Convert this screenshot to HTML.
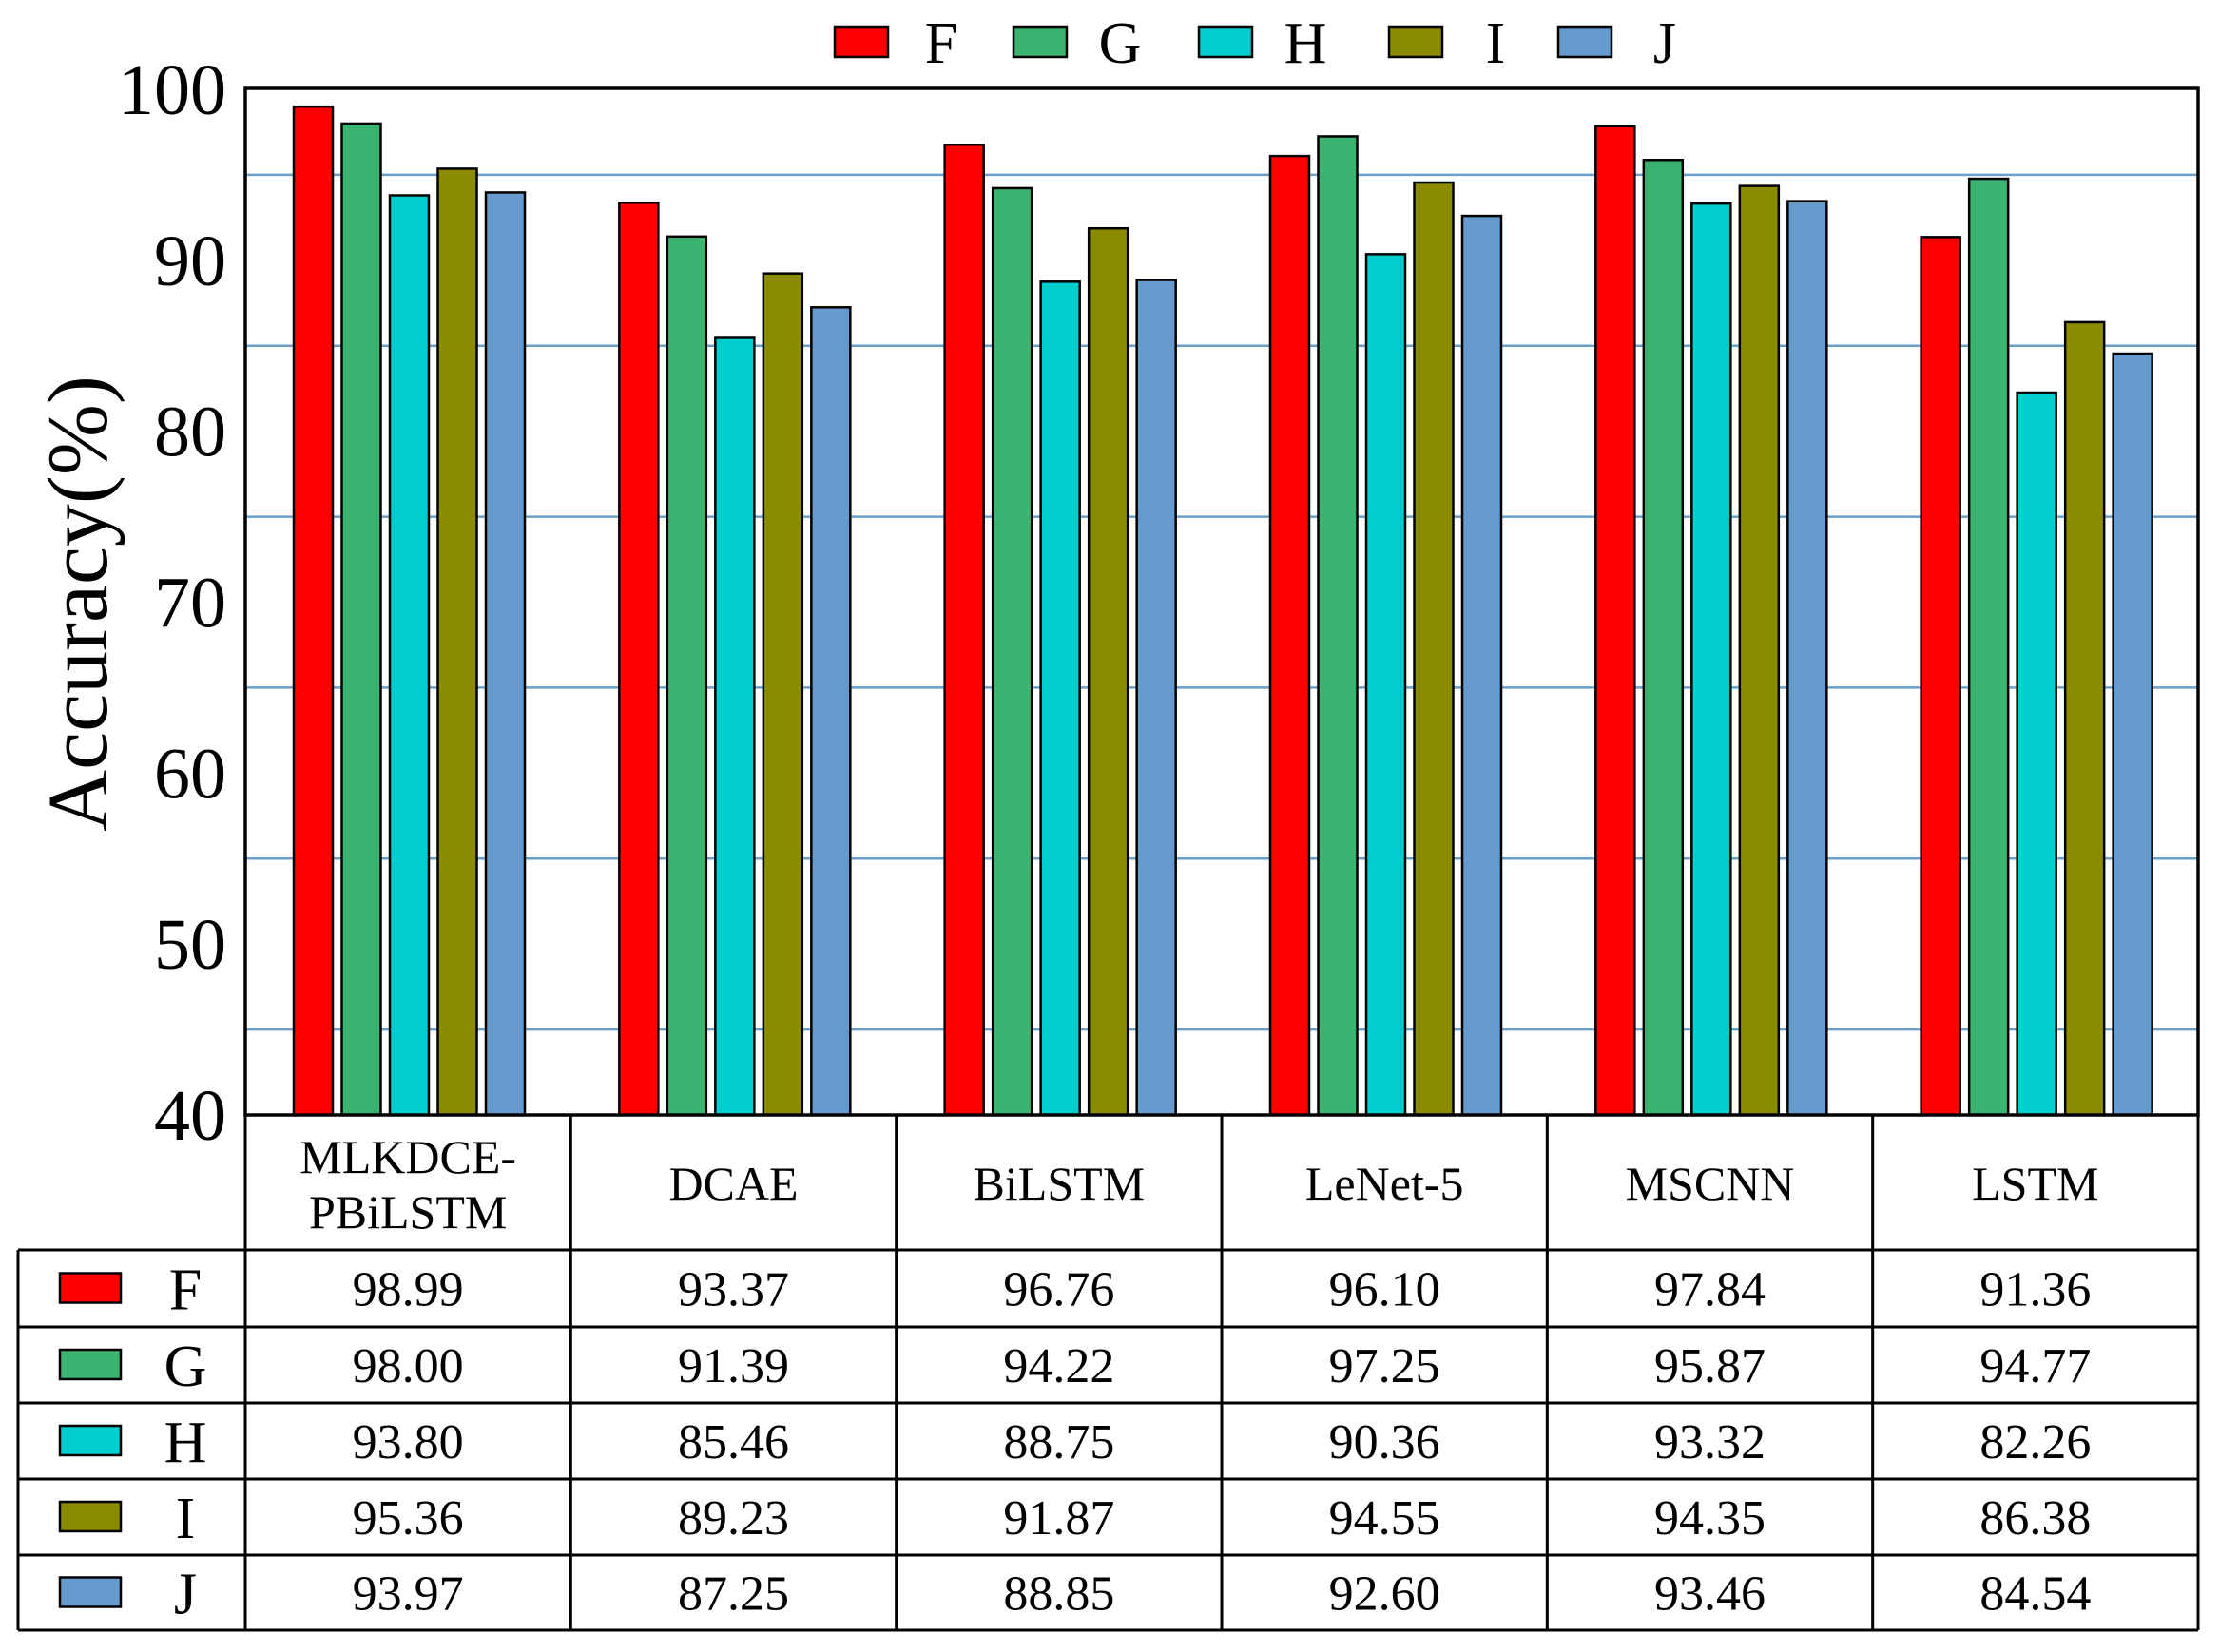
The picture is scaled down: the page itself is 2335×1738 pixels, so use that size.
<!DOCTYPE html>
<html><head><meta charset="utf-8"><style>
html,body{margin:0;padding:0;background:#fff;}
svg{display:block;font-family:"Liberation Serif",serif;}
</style></head><body>
<svg id="chart" width="2335" height="1738" viewBox="0 0 2335 1738" xmlns="http://www.w3.org/2000/svg">
<g id="grid"></g>
<g id="bars"></g>
<rect x="258" y="93" width="2054" height="1080" fill="none" stroke="#000" stroke-width="3.5"/>
<g id="yaxis"></g>
<text transform="translate(112,635) rotate(-90)" text-anchor="middle" font-size="90">Accuracy(%)</text>
<g id="legend"></g>
<g id="table"></g>
</svg>
<script>
const categories = ["MLKDCE-PBiLSTM","DCAE","BiLSTM","LeNet-5","MSCNN","LSTM"];
const seriesNames = ["F","G","H","I","J"];
const seriesF = [98.99,93.37,96.76,96.10,97.84,91.36];
const seriesG = [98.00,91.39,94.22,97.25,95.87,94.77];
const seriesH = [93.80,85.46,88.75,90.36,93.32,82.26];
const seriesI = [95.36,89.23,91.87,94.55,94.35,86.38];
const seriesJ = [93.97,87.25,88.85,92.60,93.46,84.54];
const yTicks = [40,50,60,70,80,90,100];
const gridValues = [45,55,65,75,85,95];
const colors = ["#ff0000","#3cb371","#00cdcd","#8b8b00","#6699cc"];
const series = [seriesF,seriesG,seriesH,seriesI,seriesJ];
const NS="http://www.w3.org/2000/svg";
const yMin=40,yMax=100,plotTop=94,plotBot=1173,plotL=258,plotR=2312,colW=(2312-258)/6;
function y(v){return plotBot-(v-yMin)/(yMax-yMin)*(plotBot-plotTop);}
function colX(i){return plotL+i*colW;}
function el(tag,attrs,parent){const e=document.createElementNS(NS,tag);for(const k in attrs)e.setAttribute(k,attrs[k]);parent.appendChild(e);return e;}
const grid=document.getElementById('grid');
gridValues.forEach(v=>{
  const l=el('line',{x1:plotL,x2:plotR,y1:y(v),y2:y(v),stroke:'#6a9fc8','stroke-width':2.5},grid);
  
  
});
const yaxis=document.getElementById('yaxis');
yTicks.forEach(v=>{
  const t=el('text',{x:238,y:y(v)+26,'text-anchor':'end','font-size':76},yaxis);
  t.textContent=v;
  
  
});
const bars=document.getElementById('bars');
series.forEach((s,si)=>{
  s.forEach((v,ci)=>{
    const x=colX(ci)+51+si*50.5;
    const r=el('rect',{x:x,y:y(v),width:41,height:plotBot-y(v),fill:colors[si],stroke:'#000','stroke-width':2.5},bars);
    
    
  });
});
const legend=document.getElementById('legend');
const legX=[878,1066,1261,1461,1639];
seriesNames.forEach((n,i)=>{
  const g=el('g',{},legend);
  
  
  el('rect',{x:legX[i],y:28,width:56,height:32,fill:colors[i],stroke:'#000','stroke-width':2.5},g);
  const t=el('text',{x:legX[i]+112,y:66,'text-anchor':'middle','font-size':62},g);
  t.textContent=n;
});
const table=document.getElementById('table');
const rowY=[1173,1315,1396,1476,1556,1636,1715];
const L=19,R=plotR;
for(let i=0;i<=6;i++){el('line',{x1:colX(i),x2:colX(i),y1:1173,y2:1715,stroke:'#000','stroke-width':3},table);}
el('line',{x1:L,x2:L,y1:1315,y2:1715,stroke:'#000','stroke-width':3},table);
el('line',{x1:plotL,x2:R,y1:1173,y2:1173,stroke:'#000','stroke-width':3},table);
for(let r=1;r<rowY.length;r++){el('line',{x1:L,x2:R,y1:rowY[r],y2:rowY[r],stroke:'#000','stroke-width':3},table);}
categories.forEach((c,i)=>{
  const cx=colX(i)+colW/2;
  const t=el('text',{x:cx,'text-anchor':'middle','font-size':50},table);
  
  
  if(c==="MLKDCE-PBiLSTM"){
    t.setAttribute('y',1234);t.textContent="MLKDCE-";
    const t2=el('text',{x:cx,y:1292,'text-anchor':'middle','font-size':50},table);
    t2.textContent="PBiLSTM";
    
    
  } else {t.setAttribute('y',1262);t.textContent=c;}
});
series.forEach((s,si)=>{
  const cy=(rowY[si+1]+rowY[si+2])/2;
  const sw=el('rect',{x:63,y:cy-16,width:64,height:31,fill:colors[si],stroke:'#000','stroke-width':2.5},table);
  
  
  const lt=el('text',{x:195,y:cy+22,'text-anchor':'middle','font-size':62},table);
  lt.textContent=seriesNames[si];
  
  
  s.forEach((v,ci)=>{
    const t=el('text',{x:colX(ci)+colW/2,y:cy+18,'text-anchor':'middle','font-size':52},table);
    t.textContent=v.toFixed(2);
    
    
  });
});
</script>
</body></html>
